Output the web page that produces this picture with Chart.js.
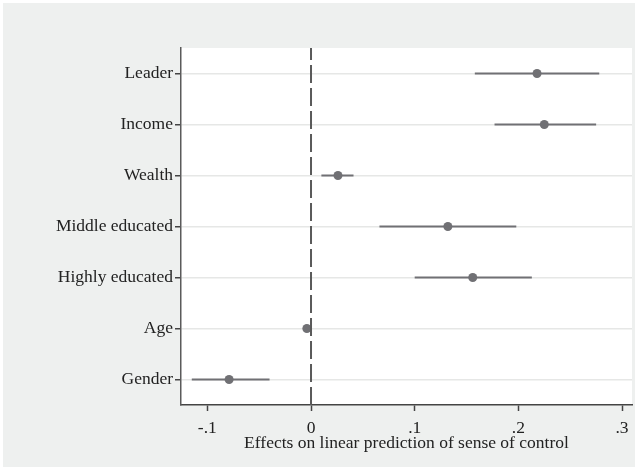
<!DOCTYPE html>
<html>
<head>
<meta charset="utf-8">
<script src="https://cdn.jsdelivr.net/npm/chart.js@4.4.1/dist/chart.umd.min.js"></script>
<style>
  html, body { margin: 0; padding: 0; background: #ffffff; }
  #wrap { width: 638px; height: 470px; }
</style>
</head>
<body>
<div id="wrap"><canvas id="c" width="638" height="470"></canvas></div>
<script>
// Coefficient plot: point estimates with 95% confidence intervals
const categories = ['Leader', 'Income', 'Wealth', 'Middle educated', 'Highly educated', 'Age', 'Gender'];
const estimates  = [0.218, 0.225, 0.026, 0.132, 0.156, -0.004, -0.079];
const ciLower    = [0.158, 0.177, 0.010, 0.066, 0.100, -0.006, -0.115];
const ciUpper    = [0.278, 0.275, 0.041, 0.198, 0.213, -0.002, -0.040];
const xTickValues = [-0.1, 0, 0.1, 0.2, 0.3];
const xTickLabels = ['-.1', '0', '.1', '.2', '.3'];
const xTitle = 'Effects on linear prediction of sense of control';

const n = categories.length;
const rowPos = i => n - i;   // first category at the top

const markColor = '#707074';
const serif = "'Liberation Serif', 'DejaVu Serif', serif";

// background: white frame, light grey panel, white plot region
const backdrop = {
  id: 'backdrop',
  beforeDraw(chart) {
    const { ctx, chartArea: a } = chart;
    ctx.save();
    ctx.fillStyle = '#ffffff';
    ctx.fillRect(0, 0, chart.width, chart.height);
    ctx.fillStyle = '#eef0ef';
    ctx.fillRect(3, 3, chart.width - 6, chart.height - 6);
    ctx.fillStyle = '#ffffff';
    ctx.fillRect(a.left, a.top, a.right - a.left, a.bottom - a.top);
    ctx.restore();
  }
};

const datasets = [];
// reference line at zero (first dataset is drawn on top)
datasets.push({
  type: 'line',
  data: [{ x: 0, y: 0.5 }, { x: 0, y: n + 0.5 }],
  borderColor: '#5a5a5a',
  borderWidth: 2,
  borderDash: [18, 5],
  pointRadius: 0,
  clip: false
});
// point estimates
datasets.push({
  type: 'scatter',
  data: categories.map((c, i) => ({ x: estimates[i], y: rowPos(i) })),
  backgroundColor: markColor,
  borderColor: markColor,
  pointRadius: 4.5,
  borderWidth: 0
});
// confidence intervals
categories.forEach((c, i) => {
  datasets.push({
    type: 'line',
    data: [{ x: ciLower[i], y: rowPos(i) }, { x: ciUpper[i], y: rowPos(i) }],
    borderColor: markColor,
    borderWidth: 2,
    pointRadius: 0
  });
});

new Chart(document.getElementById('c'), {
  type: 'scatter',
  data: { datasets },
  plugins: [backdrop],
  options: {
    responsive: false,
    animation: false,
    devicePixelRatio: 1,
    layout: { padding: { top: 48, right: 6, left: 0, bottom: 0 } },
    plugins: { legend: { display: false }, tooltip: { enabled: false } },
    scales: {
      x: {
        type: 'linear',
        min: -0.1254,
        max: 0.3096,
        afterBuildTicks: s => { s.ticks = xTickValues.map(v => ({ value: v })); },
        afterFit: s => { s.height = 65; },
        ticks: {
          autoSkip: false,
          maxRotation: 0,
          padding: 7,
          color: '#222',
          font: { family: serif, size: 17.5 },
          callback: (v) => {
            const k = xTickValues.findIndex(t => Math.abs(t - v) < 1e-9);
            return k >= 0 ? xTickLabels[k] : '';
          }
        },
        grid: {
          drawOnChartArea: false,
          drawTicks: true,
          tickLength: 6,
          tickColor: '#444',
          tickWidth: 1.5
        },
        border: { color: '#444', width: 1.5 },
        title: {
          display: true,
          text: xTitle,
          color: '#222',
          font: { family: serif, size: 17.5 },
          padding: { top: 0, bottom: 16 }
        }
      },
      y: {
        type: 'linear',
        min: 0.5,
        max: n + 0.5,
        afterBuildTicks: s => { s.ticks = categories.map((c, i) => ({ value: rowPos(i) })); },
        afterFit: s => { s.width = 181; },
        ticks: {
          autoSkip: false,
          padding: 2,
          color: '#222',
          font: { family: serif, size: 17.5 },
          callback: (v) => categories[n - v]
        },
        grid: {
          color: '#e6e7e6',
          lineWidth: 1.5,
          drawTicks: true,
          tickLength: 6,
          tickColor: '#444',
          tickWidth: 1.5
        },
        border: { color: '#5a5a5a', width: 1.5 }
      }
    }
  }
});
</script>
</body>
</html>
